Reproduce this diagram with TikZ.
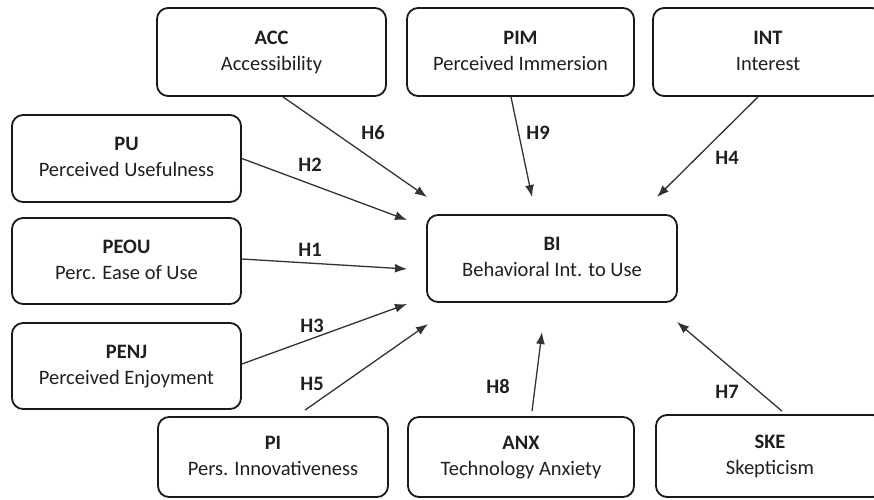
\documentclass[tikz,border=0pt]{standalone}
\usepackage{fontspec}
\setmainfont{Carlito}
\usetikzlibrary{arrows.meta}
\begin{document}
\begin{tikzpicture}[x=1pt,y=-1pt,
  box/.style={draw=black!90, line width=1.8pt, rounded corners=11pt, inner sep=0pt,
    align=center, text=black!88, font=\fontsize{20.5}{26}\selectfont},
  hyp/.style={draw=black!80, line width=1.3pt, -{Latex[length=12pt,width=9pt]}},
  hlab/.style={font=\fontsize{20.5}{24}\selectfont\bfseries, text=black!88, inner sep=0pt}]
\useasboundingbox (0,0) rectangle (874,499);
\clip (0,0) rectangle (874,499);
% boxes
\node[box, minimum width=229pt, minimum height=88pt] (ACC) at (271.5,52) {\strut\textbf{ACC}\\\strut Accessibility};
\node[box, minimum width=227pt, minimum height=88pt] (PIM) at (520.5,52) {\strut\textbf{PIM}\\\strut Perceived Immersion};
\node[box, minimum width=230pt, minimum height=88pt] (INT) at (768,52) {\strut\textbf{INT}\\\strut Interest};
\node[box, minimum width=229pt, minimum height=87pt] (PU) at (126.5,158.5) {\strut\textbf{PU}\\\strut Perceived Usefulness};
\node[box, minimum width=229pt, minimum height=86pt] (PEOU) at (126.5,261) {\strut\textbf{PEOU}\\\strut Perc. Ease of Use};
\node[box, minimum width=229pt, minimum height=86pt] (PENJ) at (126.5,366) {\strut\textbf{PENJ}\\\strut Perceived Enjoyment};
\node[box, minimum width=250pt, minimum height=87pt] (BI) at (552,258.5) {\strut\textbf{BI}\\\strut Behavioral Int. to Use};
\node[box, minimum width=230pt, minimum height=80pt] (PI) at (273,457) {\strut\textbf{PI}\\\strut Pers. Innovativeness};
\node[box, minimum width=226pt, minimum height=80pt] (ANX) at (521,457) {\strut\textbf{ANX}\\\strut Technology Anxiety};
\node[box, minimum width=228pt, minimum height=82pt] (SKE) at (770,456) {\strut\textbf{SKE}\\\strut Skepticism};
% arrow tips (free ends)
\coordinate (tACC) at (427,197);
\coordinate (tPU) at (407,220);
\coordinate (tPEOU) at (407,269);
\coordinate (tPENJ) at (407,304);
\coordinate (tPI) at (428,324);
\coordinate (tPIM) at (532,197);
\coordinate (tINT) at (657,197);
\coordinate (tANX) at (542,332);
\coordinate (tSKE) at (677,322);
% connectors
\draw[hyp] ([xshift=11.5pt]ACC.south) -- (tACC);
\draw[hyp] (PU.east) -- (tPU);
\draw[hyp] ([yshift=2pt]PEOU.east) -- (tPEOU);
\draw[hyp] ([yshift=2pt]PENJ.east) -- (tPENJ);
\draw[hyp] ([xshift=32pt,yshift=6pt]PI.north) -- (tPI);
\draw[hyp] ([xshift=-9.5pt]PIM.south) -- (tPIM);
\draw[hyp] ([xshift=-10pt]INT.south) -- (tINT);
\draw[hyp] ([xshift=11pt,yshift=5pt]ANX.north) -- (tANX);
\draw[hyp] ([xshift=12pt,yshift=3pt]SKE.north) -- (tSKE);
% labels
\node[hlab] (H6) at (373,133) {H6};
\node[hlab] (H2) at (310,165) {H2};
\node[hlab] (H1) at (310,250) {H1};
\node[hlab] (H3) at (312,326) {H3};
\node[hlab] (H5) at (312,384) {H5};
\node[hlab] (H9) at (538,133) {H9};
\node[hlab] (H4) at (727,158) {H4};
\node[hlab] (H8) at (498,386) {H8};
\node[hlab] (H7) at (727,392) {H7};
\end{tikzpicture}
\end{document}
